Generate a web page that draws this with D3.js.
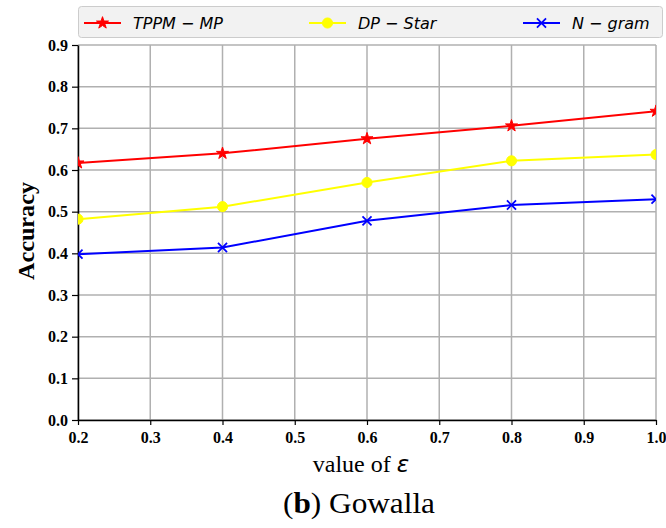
<!DOCTYPE html>
<html>
<head>
<meta charset="utf-8">
<script src="https://cdn.jsdelivr.net/npm/d3@7"></script>
<style>
  html, body { margin: 0; padding: 0; background: #fff; }
  svg { display: block; }
</style>
</head>
<body>
<svg id="chart" width="666" height="528"></svg>
<script>
// Privacy budget values on the x axis
const epsilon = [0.2, 0.4, 0.6, 0.8, 1.0];

// Accuracy per method
const tppmMP = [0.617, 0.640, 0.675, 0.706, 0.741];
const dpStar = [0.482, 0.512, 0.570, 0.622, 0.637];
const nGram  = [0.398, 0.414, 0.478, 0.516, 0.530];

const xTicks = [0.2, 0.3, 0.4, 0.5, 0.6, 0.7, 0.8, 0.9, 1.0];
const yTicks = [0.0, 0.1, 0.2, 0.3, 0.4, 0.5, 0.6, 0.7, 0.8, 0.9];

const seriesNames = ["TPPM \u2212 MP", "DP \u2212 Star", "N \u2212 gram"];
const seriesColors = ["#ff0000", "#ffff00", "#0000ff"];
const seriesMarkers = ["star", "circle", "cross"];
const seriesValues = [tppmMP, dpStar, nGram];

const svg = d3.select("#chart");
const plot = { left: 78, right: 656, top: 45, bottom: 420 };

const x = d3.scaleLinear().domain([0.2, 1.0]).range([plot.left, plot.right]);
const y = d3.scaleLinear().domain([0.0, 0.9]).range([plot.bottom, plot.top]);

svg.append("defs").append("clipPath").attr("id", "plotClip")
  .append("rect")
  .attr("x", plot.left).attr("y", plot.top - 8)
  .attr("width", plot.right - plot.left).attr("height", plot.bottom - plot.top + 8);

// Grid
const grid = svg.append("g");
grid.selectAll("line.gx").data(xTicks).join("line")
  .attr("x1", d => x(d)).attr("x2", d => x(d))
  .attr("y1", plot.top).attr("y2", plot.bottom)
  .attr("stroke", "#b0b0b0").attr("stroke-width", 1.5);
grid.selectAll("line.gy").data(yTicks).join("line")
  .attr("x1", plot.left).attr("x2", plot.right)
  .attr("y1", d => y(d)).attr("y2", d => y(d))
  .attr("stroke", "#b0b0b0").attr("stroke-width", 1.5);

// Axes
const serif = "'Liberation Serif', 'Times New Roman', serif";
const xAxis = svg.append("g")
  .attr("transform", `translate(0,${plot.bottom})`)
  .call(d3.axisBottom(x).tickValues(xTicks).tickFormat(d3.format(".1f")).tickSize(5).tickSizeOuter(0));
const yAxis = svg.append("g")
  .attr("transform", `translate(${plot.left},0)`)
  .call(d3.axisLeft(y).tickValues(yTicks).tickFormat(d3.format(".1f")).tickSize(6).tickSizeOuter(0));
[xAxis, yAxis].forEach(g => {
  g.select(".domain").attr("stroke", "#000").attr("stroke-width", 1.5);
  g.selectAll(".tick line").attr("stroke", "#000").attr("stroke-width", 1.2);
  g.selectAll(".tick text")
    .attr("font-family", serif).attr("font-size", 16).attr("font-weight", "bold")
    .attr("fill", "#000");
});
xAxis.selectAll(".tick text").attr("y", 9).attr("dy", "0.9em");
yAxis.selectAll(".tick text").attr("x", -10);

// Series lines and markers
const lineGen = d3.line().x((d, i) => x(epsilon[i])).y(d => y(d));
const markerPath = {
  star: d3.symbol().type(d3.symbolStar).size(45)(),
  circle: d3.symbol().type(d3.symbolCircle).size(80)(),
  cross: d3.symbol().type(d3.symbolX).size(55)()
};

function drawMarker(sel, s) {
  sel.attr("d", markerPath[seriesMarkers[s]])
    .attr("fill", seriesMarkers[s] === "cross" ? "none" : seriesColors[s])
    .attr("stroke", seriesColors[s])
    .attr("stroke-width", seriesMarkers[s] === "cross" ? 1.8 : 1);
}

const layer = svg.append("g").attr("clip-path", "url(#plotClip)");
seriesValues.forEach((vals, s) => {
  layer.append("path")
    .datum(vals)
    .attr("d", lineGen)
    .attr("fill", "none")
    .attr("stroke", seriesColors[s])
    .attr("stroke-width", 2);
  layer.selectAll(null).data(vals).join("path")
    .attr("transform", (d, i) => `translate(${x(epsilon[i])},${y(d)})`)
    .call(drawMarker, s);
});

// Axis titles
svg.append("text")
  .attr("transform", "translate(34,231) rotate(-90)")
  .attr("text-anchor", "middle")
  .attr("font-family", serif).attr("font-size", 23).attr("font-weight", "bold")
  .attr("textLength", 98).attr("lengthAdjust", "spacingAndGlyphs")
  .text("Accuracy");

const xt = svg.append("text")
  .attr("x", 361).attr("y", 472)
  .attr("text-anchor", "middle")
  .attr("font-family", serif).attr("font-size", 24);
xt.append("tspan").text("value of ");
xt.append("tspan").attr("font-family", "'DejaVu Sans', sans-serif").attr("font-style", "italic").attr("font-size", 23).text("\u03b5");

const cap = svg.append("text")
  .attr("x", 359).attr("y", 513)
  .attr("text-anchor", "middle")
  .attr("font-family", serif).attr("font-size", 29)
  .attr("textLength", 152).attr("lengthAdjust", "spacingAndGlyphs");
cap.append("tspan").text("(");
cap.append("tspan").attr("font-weight", "bold").text("b");
cap.append("tspan").text(") Gowalla");

// Legend
const legend = svg.append("g");
legend.append("rect")
  .attr("x", 78.5).attr("y", 6.5).attr("width", 584).attr("height", 31)
  .attr("rx", 3).attr("fill", "#f2f2f2").attr("stroke", "#cccccc").attr("stroke-width", 1);
const legendX = [84, 309, 523];
seriesNames.forEach((name, s) => {
  const g = legend.append("g").attr("transform", `translate(${legendX[s]},23)`);
  g.append("line").attr("x1", 0).attr("x2", 37).attr("y1", 0).attr("y2", 0)
    .attr("stroke", seriesColors[s]).attr("stroke-width", 2);
  g.append("path").attr("transform", "translate(18.5,0)").call(drawMarker, s);
  g.append("text").attr("x", 49).attr("y", 6)
    .attr("font-family", "'DejaVu Sans', sans-serif").attr("font-style", "italic")
    .attr("font-size", 16).attr("fill", "#000")
    .text(name);
});
</script>
</body>
</html>
